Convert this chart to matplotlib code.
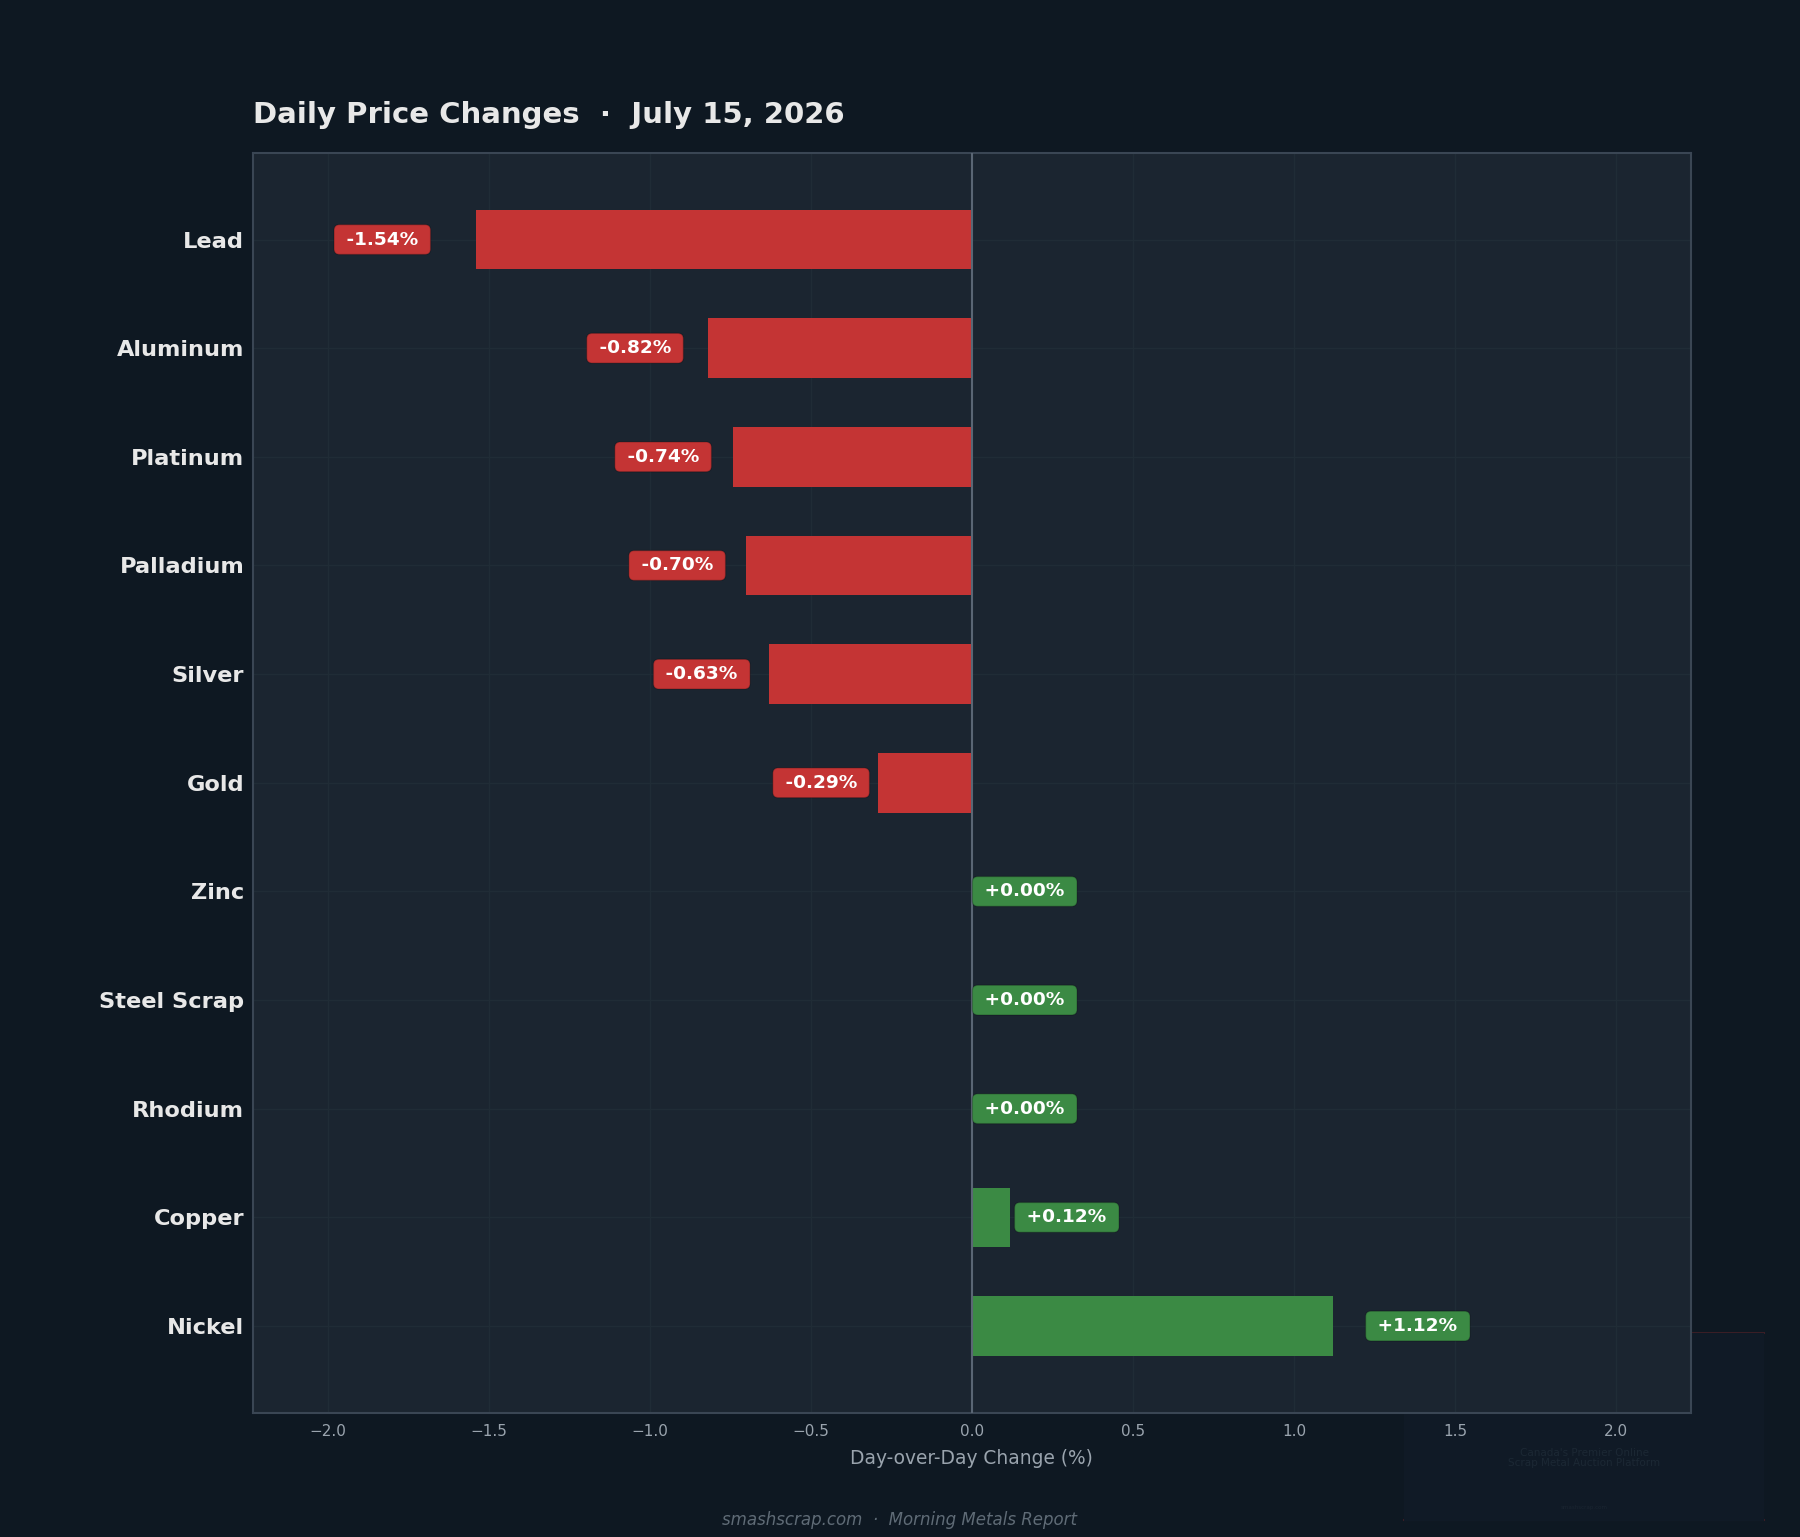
import matplotlib
matplotlib.use("Agg")
import matplotlib.pyplot as plt
from matplotlib.patches import Rectangle

# Data
metals = ['Lead', 'Aluminum', 'Platinum', 'Palladium', 'Silver', 'Gold',
          'Zinc', 'Steel Scrap', 'Rhodium', 'Copper', 'Nickel']
changes = [-1.54, -0.82, -0.74, -0.70, -0.63, -0.29, 0.00, 0.00, 0.00, 0.12, 1.12]

# Colours
fig_bg = '#0e1822'
ax_bg = '#1b2530'
red = '#c43434'
green = '#3b8a44'
text_col = '#e8e8e8'
tick_col = '#9aa4ae'
spine_col = '#3a4654'
grid_col = '#202c36'

fig = plt.figure(figsize=(18, 15.37), dpi=100, facecolor=fig_bg)

# faint watermark panel behind the axes
fig.patches.append(Rectangle((1404 / 1800, 1 - 1521 / 1537), 360 / 1800, 188 / 1537,
                             transform=fig.transFigure, facecolor='#101a26',
                             edgecolor='none', zorder=0))
for yy in (1333, 1520):
    fig.add_artist(plt.Line2D([1404 / 1800, 1764 / 1800], [1 - yy / 1537] * 2,
                              transform=fig.transFigure, color='#3a1e26', lw=1.5, zorder=0))
fig.text(1584 / 1800, 1 - 1458 / 1537, "Canada's Premier Online\nScrap Metal Auction Platform",
         ha='center', va='center', fontsize=7.5, color='#1c2834', linespacing=1.0, zorder=0)
fig.text(1584 / 1800, 1 - 1508 / 1537, "smashscrap.com", ha='center', va='center',
         fontsize=4, color='#1a2531', zorder=0)

ax = fig.add_axes([0.1403, 0.0807, 0.7992, 0.82])
ax.set_facecolor(ax_bg)
ax.set_zorder(2)

y = list(range(len(metals)))
colours = [red if v < 0 else green for v in changes]
ax.barh(y, changes, height=0.55, color=colours, zorder=3)

for yi, v in zip(y, changes):
    c = red if v < 0 else green
    if v < 0:
        x = v * 1.09 - 0.02
        ha = 'right'
    else:
        x = v * 1.09 + 0.02
        ha = 'left'
    ax.text(x, yi, f" {v:+.2f}% ", ha=ha, va='center', color='white', fontsize=13.3,
            fontweight='bold', zorder=5,
            bbox=dict(boxstyle='round,pad=0.32,rounding_size=0.3', facecolor=c,
                      edgecolor='#00000033', lw=1))

ax.axvline(0, color='#5a6674', lw=1.5, zorder=4)

ax.set_xlim(-2.233, 2.233)
ax.set_ylim(10.8, -0.8)
ax.set_yticks(y)
ax.set_yticklabels(metals, fontsize=16.2, fontweight='bold', color=text_col)
ax.tick_params(axis='y', length=0, pad=6)
ax.tick_params(axis='x', colors=tick_col, labelsize=11, length=0, pad=8)
ax.grid(True, color=grid_col, lw=1, zorder=0)
ax.set_axisbelow(True)
for s in ax.spines.values():
    s.set_color(spine_col)
    s.set_linewidth(1.5)

ax.set_xlabel("Day-over-Day Change (%)", fontsize=13.4, color=tick_col, labelpad=7)

fig.text(0.1403, 0.925, "Daily Price Changes  \u00b7  July 15, 2026", fontsize=21,
         fontweight='bold', color=text_col, ha='left', va='center')
fig.text(0.5, 0.011, "smashscrap.com  \u00b7  Morning Metals Report", fontsize=12,
         style='italic', color='#5f6b76', ha='center', va='center')

fig.savefig('out.png', dpi=100, facecolor=fig_bg)
